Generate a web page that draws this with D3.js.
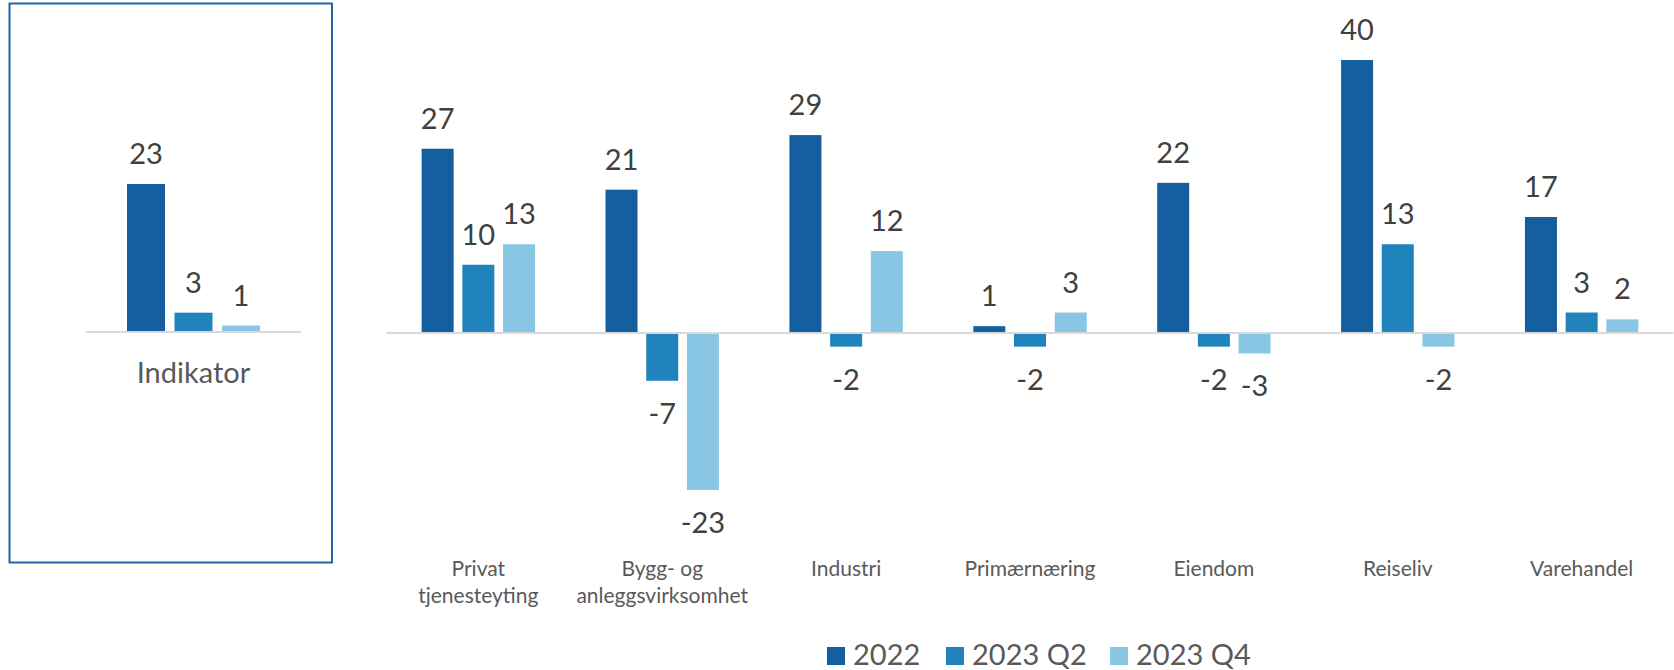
<!DOCTYPE html>
<html>
<head>
<meta charset="utf-8">
<script src="https://cdn.jsdelivr.net/npm/d3@7"></script>
<style>
  body { margin: 0; background: #fff; }
  svg { display: block; font-family: Lato, "Open Sans", sans-serif; }
</style>
</head>
<body>
<svg id="chart" width="1674" height="670"></svg>
<script>
// data
var series = ["2022", "2023 Q2", "2023 Q4"];
var colors = ["#155fa0", "#2083bb", "#88c6e4"];

var indCategory = ["Indikator"];
var ind2022 = [23];
var indQ2 = [3];
var indQ4 = [1];

var categories = ["Privat tjenesteyting", "Bygg- og anleggsvirksomhet", "Industri",
                  "Primærnæring", "Eiendom", "Reiseliv", "Varehandel"];
// line breaks for the category labels
var catLines = [["Privat", "tjenesteyting"], ["Bygg- og", "anleggsvirksomhet"], ["Industri"],
                ["Primærnæring"], ["Eiendom"], ["Reiseliv"], ["Varehandel"]];
var v2022 = [27, 21, 29, 1, 22, 40, 17];
var vQ2 = [10, -7, -2, -2, -2, 13, 3];
var vQ4 = [13, -23, 12, 3, -3, -2, 2];

var svg = d3.select("#chart");

// left panel frame
svg.append("rect")
    .attr("x", 9.5).attr("y", 3.5)
    .attr("width", 322.5).attr("height", 559)
    .attr("fill", "none")
    .attr("stroke", "#2563a9")
    .attr("stroke-width", 2);

function drawGroup(g, cats, vals, x0, y, opts) {
    var x1 = d3.scaleBand().domain(series)
        .range([0, x0.bandwidth()])
        .paddingInner(opts.pin).paddingOuter(opts.pout);

    var rows = cats.map(function(c, i) {
        return series.map(function(s, j) { return {cat: c, s: s, j: j, v: vals[j][i]}; });
    });

    // zero line
    g.append("line")
        .attr("x1", x0.range()[0]).attr("x2", x0.range()[1])
        .attr("y1", y(0)).attr("y2", y(0))
        .attr("stroke", "#d9d9d9").attr("stroke-width", 2);

    var grp = g.selectAll("g.cat").data(rows).enter().append("g")
        .attr("class", "cat")
        .attr("transform", function(d, i) { return "translate(" + x0(cats[i]) + ",0)"; });

    grp.selectAll("rect").data(function(d) { return d; }).enter().append("rect")
        .attr("x", function(d) { return x1(d.s); })
        .attr("width", x1.bandwidth())
        .attr("y", function(d) { return d.v >= 0 ? y(d.v) : y(0) + 1; })
        .attr("height", function(d) { return d.v >= 0 ? y(0) - 1 - y(d.v) : y(d.v) - y(0) - 1; })
        .attr("fill", function(d) { return colors[d.j]; });

    grp.selectAll("text.val").data(function(d) { return d; }).enter().append("text")
        .attr("class", "val")
        .attr("x", function(d) { return x1(d.s) + x1.bandwidth() / 2; })
        .attr("y", function(d) { return d.v >= 0 ? y(d.v) - 20 : y(d.v) + 43; })
        .attr("text-anchor", "middle")
        .attr("font-size", 29)
        .attr("fill", "#404040")
        .text(function(d) { return d.v; });
}

// left panel: the indicator
var xL = d3.scaleBand().domain(indCategory).range([86, 301]);
var yL = d3.scaleLinear().domain([0, 23]).range([332, 184]);
var gL = svg.append("g");
drawGroup(gL, indCategory, [ind2022, indQ2, indQ4], xL, yL, {pin: 0.2, pout: 0.863});
gL.append("text")
    .attr("x", xL("Indikator") + xL.bandwidth() / 2)
    .attr("y", 383)
    .attr("text-anchor", "middle")
    .attr("font-size", 29)
    .attr("fill", "#595959")
    .text("Indikator");

// main panel: the sectors
var x0 = d3.scaleBand().domain(categories).range([386.4, 1673.6]);
var y = d3.scaleLinear().domain([0, 40]).range([333, 60]);
var gM = svg.append("g");
drawGroup(gM, categories, [v2022, vQ2, vQ4], x0, y, {pin: 0.214, pout: 0.866});

var labels = gM.selectAll("text.cat").data(categories).enter().append("text")
    .attr("class", "cat")
    .attr("text-anchor", "middle")
    .attr("font-size", 21)
    .attr("fill", "#595959");
labels.selectAll("tspan").data(function(d, i) { return catLines[i]; }).enter().append("tspan")
    .attr("x", function() { var c = d3.select(this.parentNode).datum(); return x0(c) + x0.bandwidth() / 2; })
    .attr("y", function(d, k) { return 576 + k * 26.7; })
    .text(function(d) { return d; });

// legend
var legX = [827, 946, 1110];
var leg = svg.selectAll("g.leg").data(series).enter().append("g")
    .attr("class", "leg")
    .attr("transform", function(d, i) { return "translate(" + legX[i] + ",647)"; });
leg.append("rect").attr("width", 18).attr("height", 18)
    .attr("fill", function(d, i) { return colors[i]; });
leg.append("text").attr("x", 26).attr("y", 18)
    .attr("font-size", 29)
    .attr("fill", "#595959")
    .text(function(d) { return d; });
</script>
</body>
</html>
